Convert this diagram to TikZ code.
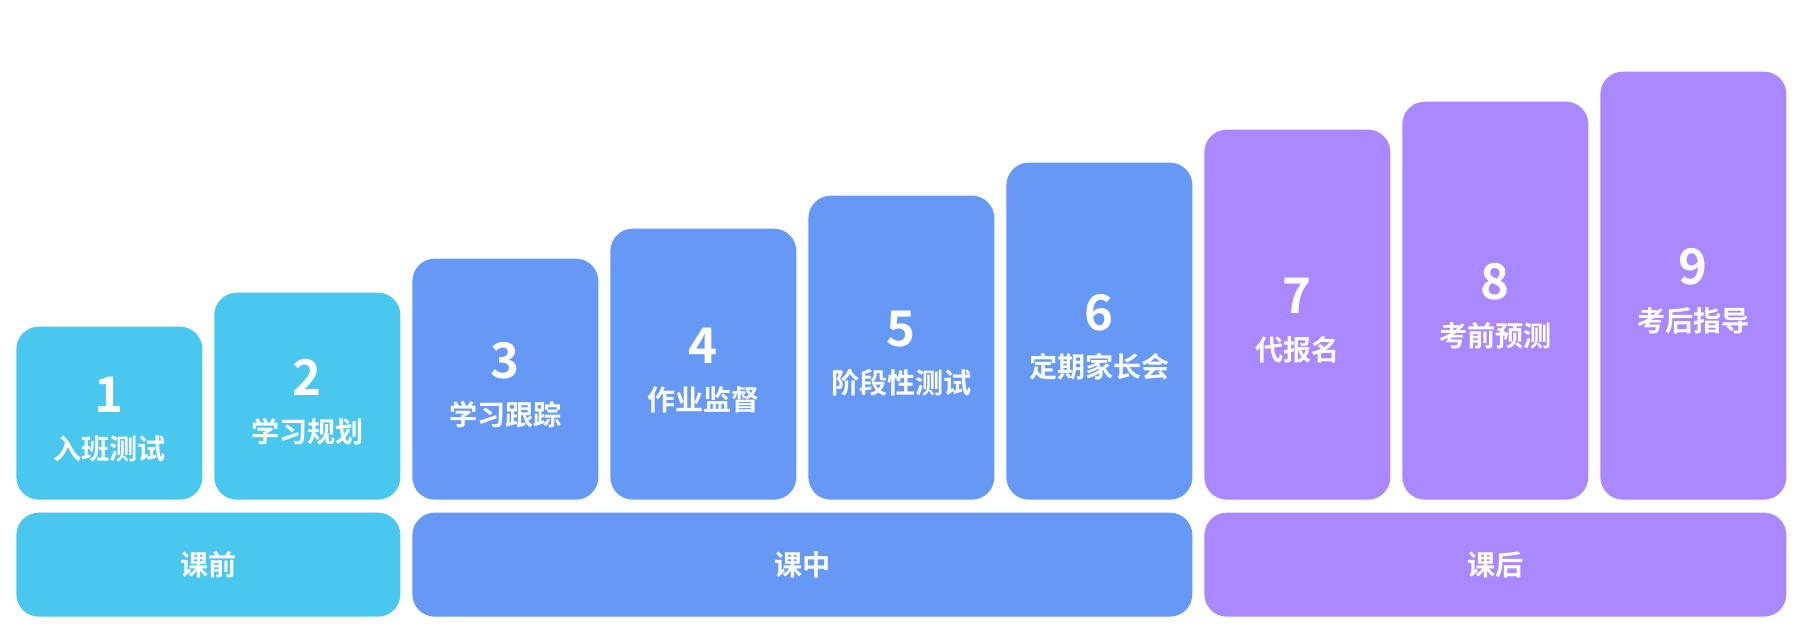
\documentclass[tikz,border=0pt]{standalone}
\usepackage{fontspec}
\setmainfont{Noto Sans CJK SC}[BoldFont={Noto Sans CJK SC Bold}]
\usetikzlibrary{positioning}
\definecolor{precyan}{HTML}{4AC7EF}
\definecolor{inblue}{HTML}{6699F5}
\definecolor{postpurple}{HTML}{AA88FF}
\tikzset{
	stepbox/.style={draw=none, rounded corners=0.45cm, minimum width=3.72cm, anchor=south west, inner sep=0pt},
	phasebox/.style={draw=none, rounded corners=0.45cm, minimum height=2.08cm, anchor=south west, inner sep=0pt, text=white, font=\bfseries\fontsize{16}{16}\selectfont},
	num/.style={text=white, inner sep=0pt, font=\bfseries\fontsize{28}{28}\selectfont},
	lab/.style={text=white, inner sep=0pt, font=\bfseries\fontsize{16}{16}\selectfont}
}

\begin{document}
\begin{tikzpicture}

	\useasboundingbox[fill=white] (0,0) rectangle (35.98,12.52);

	%steps before class
	\node[stepbox, fill=precyan, minimum height=3.46cm] (s1) at (0.32,2.52) {};
	\node[num] (n1) at ([yshift=0.37cm]s1.center) {1};
	\node[lab] (l1) at ([yshift=-0.71cm]s1.center) {入班测试};
	\node[stepbox, fill=precyan, minimum height=4.14cm] (s2) at (4.28,2.52) {};
	\node[num] (n2) at ([yshift=0.37cm]s2.center) {2};
	\node[lab] (l2) at ([yshift=-0.71cm]s2.center) {学习规划};

	%steps during class
	\node[stepbox, fill=inblue, minimum height=4.82cm] (s3) at (8.24,2.52) {};
	\node[num] (n3) at ([yshift=0.37cm]s3.center) {3};
	\node[lab] (l3) at ([yshift=-0.71cm]s3.center) {学习跟踪};
	\node[stepbox, fill=inblue, minimum height=5.42cm] (s4) at (12.20,2.52) {};
	\node[num] (n4) at ([yshift=0.37cm]s4.center) {4};
	\node[lab] (l4) at ([yshift=-0.71cm]s4.center) {作业监督};
	\node[stepbox, fill=inblue, minimum height=6.08cm] (s5) at (16.16,2.52) {};
	\node[num] (n5) at ([yshift=0.37cm]s5.center) {5};
	\node[lab] (l5) at ([yshift=-0.71cm]s5.center) {阶段性测试};
	\node[stepbox, fill=inblue, minimum height=6.74cm] (s6) at (20.12,2.52) {};
	\node[num] (n6) at ([yshift=0.37cm]s6.center) {6};
	\node[lab] (l6) at ([yshift=-0.71cm]s6.center) {定期家长会};

	%steps after class
	\node[stepbox, fill=postpurple, minimum height=7.40cm] (s7) at (24.08,2.52) {};
	\node[num] (n7) at ([yshift=0.37cm]s7.center) {7};
	\node[lab] (l7) at ([yshift=-0.71cm]s7.center) {代报名};
	\node[stepbox, fill=postpurple, minimum height=7.96cm] (s8) at (28.04,2.52) {};
	\node[num] (n8) at ([yshift=0.37cm]s8.center) {8};
	\node[lab] (l8) at ([yshift=-0.71cm]s8.center) {考前预测};
	\node[stepbox, fill=postpurple, minimum height=8.56cm] (s9) at (32.00,2.52) {};
	\node[num] (n9) at ([yshift=0.37cm]s9.center) {9};
	\node[lab] (l9) at ([yshift=-0.71cm]s9.center) {考后指导};

	%phase bars
	\node[phasebox, fill=precyan, minimum width=7.68cm] (pre) at (0.32,0.18) {课前};
	\node[phasebox, fill=inblue, minimum width=15.60cm] (in) at (8.24,0.18) {课中};
	\node[phasebox, fill=postpurple, minimum width=11.64cm] (post) at (24.08,0.18) {课后};

\end{tikzpicture}
\end{document}
